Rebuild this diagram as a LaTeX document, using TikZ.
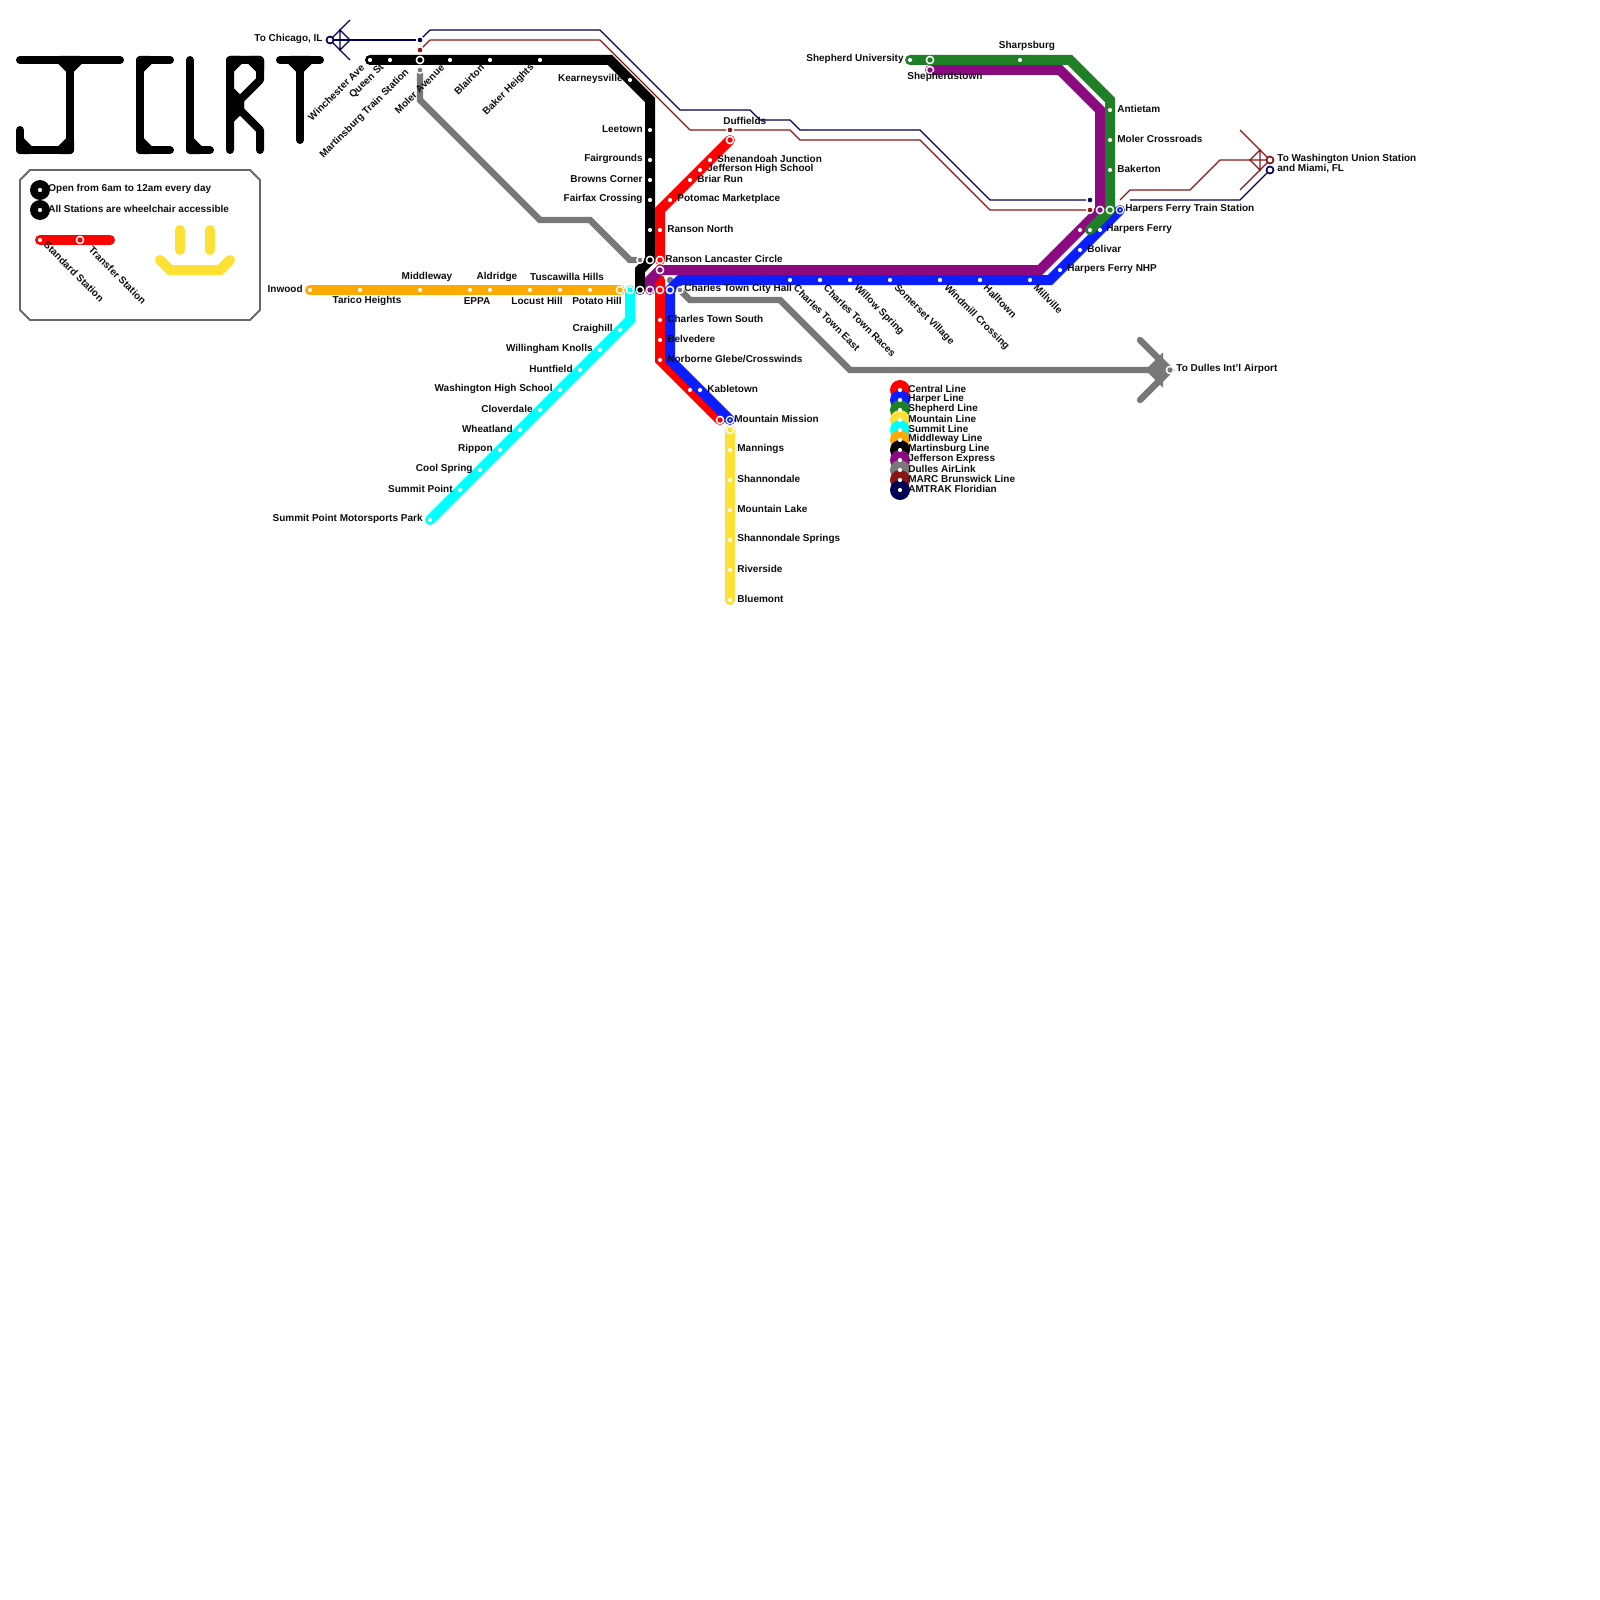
\documentclass[tikz,border=0pt]{standalone}
\usepackage{fontspec}
\setmainfont{Liberation Sans}
\usepackage{xcolor}
\usetikzlibrary{calc}
\definecolor{central}{HTML}{FF0000}
\definecolor{harper}{HTML}{0A1EFF}
\definecolor{shepherd}{HTML}{1F7F25}
\definecolor{mountain}{HTML}{FFE135}
\definecolor{summit}{HTML}{00FFFF}
\definecolor{middleway}{HTML}{FFAA00}
\definecolor{jefferson}{HTML}{8B0A80}
\definecolor{dulles}{HTML}{787878}
\definecolor{marc}{HTML}{8B1414}
\definecolor{amtrak}{HTML}{000055}
\tikzset{
  logo/.style={line width=4pt,line cap=round,line join=round,black},
  metro/.style={line width=5pt,line cap=round,line join=miter},
  air/.style={line width=3.2pt,line cap=round,line join=miter,dulles},
  rail/.style={line width=0.55pt,line join=miter},
  stn/.style={circle,fill=white,inner sep=0pt,minimum size=2.1pt},
  txt/.style={inner sep=0pt,yshift=-0.2pt,font=\fontsize{5}{5.1}\selectfont\bfseries,text=black!95},
  lt/.style={txt,anchor=west,xshift=-0.5pt},
  rt/.style={txt,anchor=east,xshift=0.5pt},
  dn/.style={txt,anchor=west,rotate=-45,yshift=0.2pt},
  up/.style={txt,anchor=east,rotate=45,xshift=0.5pt,yshift=0.7pt},
  key/.style={txt,anchor=west}
}
\newcommand{\xfer}[2]{\fill[white] #2 circle (4.4); \fill[#1] #2 circle (2.7);}
\newcommand{\xferdot}[2]{\fill[white] #2 circle (4.4); \fill[#1] #2 circle (3); \fill[white] #2 circle (1.2);}
\newcommand{\halo}[2]{\fill[white] #2 circle (4); \fill[#1] #2 circle (2.3);}
\newcommand{\term}[2]{\fill[#1] #2 circle (4.4); \fill[white] #2 circle (2.4);}
\begin{document}
\begin{tikzpicture}[x=0.5pt,y=-0.5pt]
\useasboundingbox (0,0) rectangle (1600,1600);
\draw[logo] (20,60)--(120,60);
\draw[logo] (70,60)--(70,150);
\draw[logo,fill=black] (60,60)--(70,70)--(80,60)--cycle;
\draw[logo] (20,130)--(20,150)--(70,150);
\draw[logo,fill=black] (20,140)--(30,150)--(20,150)--cycle;
\draw[logo,fill=black] (70,140)--(60,150)--(70,150)--cycle;
\draw[logo] (170,60)--(140,60)--(140,150)--(170,150);
\draw[logo,fill=black] (140,70)--(150,60)--(140,60)--cycle;
\draw[logo,fill=black] (140,140)--(150,150)--(140,150)--cycle;
\draw[logo] (190,60)--(190,150)--(210,150);
\draw[logo,fill=black] (190,140)--(200,150)--(190,150)--cycle;
\draw[logo] (230,150)--(230,60)--(260,60)--(260,80)--(240,100)--(240,110)--(260,130)--(260,150);
\draw[logo,fill=black] (230,70)--(240,60)--(230,60)--cycle;
\draw[logo,fill=black] (250,60)--(260,70)--(260,60)--cycle;
\draw[logo,fill=black] (230,90)--(240,100)--(240,110)--(230,120)--cycle;
\draw[logo] (280,60)--(320,60);
\draw[logo] (300,60)--(300,140);
\draw[logo,fill=black] (290,60)--(300,70)--(310,60)--cycle;

\draw[black!60,line width=0.9pt] (30,170)--(250,170)--(260,180)--(260,310)--(250,320)--(30,320)--(20,310)--(20,180)--cycle;
\fill[black] (40,190) circle (10);
\node[stn] at (40,190) {};
\node[key] at (48,189) {Open from 6am to 12am every day};
\fill[black] (40,210) circle (10);
\node[stn] at (40,210) {};
\node[key] at (48,209) {All Stations are wheelchair accessible};
\draw[metro,central] (40,240)--(110,240);
\node[stn] at (40,240) {};
\xfer{central}{(80,240)}
\node[dn] at (45,243) {Standard Station};
\node[dn] at (90,248) {Transfer Station};
\draw[metro,mountain] (180,230)--(180,250);
\draw[metro,mountain] (210,230)--(210,250);
\draw[metro,mountain] (160,260)--(170,270)--(220,270)--(230,260);

\draw[rail,amtrak] (430,30)--(600,30)--(680,110)--(750,110)--(760,120)--(790,120)--(800,130)--(920,130)--(990,200)--(1090,200);
\draw[rail,amtrak] (420,40)--(430,30);
\draw[rail,amtrak] (330,40)--(420,40);
\draw[rail,amtrak] (350,20)--(330,40)--(350,60);
\draw[rail,amtrak] (340,30)--(350,40)--(340,50)--cycle;
\draw[rail,amtrak] (1130,200)--(1240,200)--(1270,170);
\draw[rail,marc] (420,50)--(430,40)--(600,40)--(690,130)--(790,130)--(800,140)--(920,140)--(990,210)--(1090,210);
\draw[rail,marc] (1120,200)--(1130,190)--(1190,190)--(1220,160)--(1270,160);
\draw[rail,marc] (1240,130)--(1270,160)--(1240,190);
\draw[rail,marc] (1260,150)--(1250,160)--(1260,170)--cycle;

\draw[air] (420,70)--(420,100)--(540,220)--(590,220)--(630,260)--(640,260);
\draw[air] (670,280)--(690,300)--(780,300)--(850,370)--(1170,370);
\draw[air] (1140,340)--(1170,370)--(1140,400);
\draw[air,fill=dulles] (1160,360)--(1150,370)--(1160,380)--cycle;
\draw[air] (1160,360)--(1170,370)--(1160,380);

\draw[metro,middleway] (310,290)--(620,290);
\draw[metro,mountain] (730,430)--(730,600);
\draw[metro,summit] (630,290)--(630,320)--(430,520);
\draw[metro,black] (370,60)--(610,60)--(650,100)--(650,260)--(640,270)--(640,290);
\draw[metro,central] (730,140)--(660,210)--(660,260);
\draw[metro,central] (660,280)--(660,360)--(720,420);
\draw[metro,jefferson] (650,290)--(650,280)--(660,270)--(1040,270)--(1100,210)--(1100,110)--(1060,70)--(930,70);
\draw[metro,harper] (1120,210)--(1050,280)--(680,280)--(670,290)--(670,360)--(730,420);
\draw[metro,shepherd] (910,60)--(1070,60)--(1110,100)--(1110,210)--(1090,230);

\halo{dulles}{(640,260)}
\halo{dulles}{(680,290)}
\halo{dulles}{(420,70)}
\halo{amtrak}{(420,40)}
\halo{marc}{(420,50)}
\halo{marc}{(730,130)}
\halo{amtrak}{(1090,200)}
\halo{marc}{(1090,210)}
\term{amtrak}{(330,40)}
\term{marc}{(1270,160)}
\term{amtrak}{(1270,170)}
\xfer{dulles}{(1170,370)}

\node[stn] at (310,290) {};
\node[stn] at (360,290) {};
\node[stn] at (420,290) {};
\node[stn] at (470,290) {};
\node[stn] at (490,290) {};
\node[stn] at (530,290) {};
\node[stn] at (560,290) {};
\node[stn] at (590,290) {};
\xfer{middleway}{(620,290)}
\xfer{summit}{(630,290)}
\xfer{black}{(640,290)}
\xfer{jefferson}{(650,290)}
\xfer{central}{(660,290)}
\xfer{harper}{(670,290)}
\node[stn] at (620,330) {};
\node[stn] at (600,350) {};
\node[stn] at (580,370) {};
\node[stn] at (560,390) {};
\node[stn] at (540,410) {};
\node[stn] at (520,430) {};
\node[stn] at (500,450) {};
\node[stn] at (480,470) {};
\node[stn] at (460,490) {};
\node[stn] at (430,520) {};
\node[stn] at (370,60) {};
\node[stn] at (390,60) {};
\xfer{black}{(420,60)}
\node[stn] at (450,60) {};
\node[stn] at (490,60) {};
\node[stn] at (540,60) {};
\node[stn] at (630,80) {};
\node[stn] at (650,130) {};
\node[stn] at (650,160) {};
\node[stn] at (650,180) {};
\node[stn] at (650,200) {};
\node[stn] at (650,230) {};
\xfer{black}{(650,260)}
\xfer{central}{(730,140)}
\node[stn] at (710,160) {};
\node[stn] at (700,170) {};
\node[stn] at (690,180) {};
\node[stn] at (670,200) {};
\node[stn] at (660,230) {};
\xfer{central}{(660,260)}
\xfer{jefferson}{(660,270)}
\node[stn] at (660,320) {};
\node[stn] at (660,340) {};
\node[stn] at (660,360) {};
\node[stn] at (690,390) {};
\xfer{central}{(720,420)}
\node[stn] at (700,390) {};
\xferdot{harper}{(730,420)}
\xfer{mountain}{(730,430)}
\node[stn] at (730,450) {};
\node[stn] at (730,480) {};
\node[stn] at (730,510) {};
\node[stn] at (730,540) {};
\node[stn] at (730,570) {};
\node[stn] at (730,600) {};
\node[stn] at (790,280) {};
\node[stn] at (820,280) {};
\node[stn] at (850,280) {};
\node[stn] at (890,280) {};
\node[stn] at (940,280) {};
\node[stn] at (980,280) {};
\node[stn] at (1030,280) {};
\node[stn] at (1060,270) {};
\node[stn] at (1080,250) {};
\node[stn] at (1100,230) {};
\node[stn] at (1090,230) {};
\node[stn] at (1080,230) {};
\xfer{jefferson}{(1100,210)}
\xfer{shepherd}{(1110,210)}
\xferdot{harper}{(1120,210)}
\node[stn] at (1110,110) {};
\node[stn] at (1110,140) {};
\node[stn] at (1110,170) {};
\node[stn] at (1020,60) {};
\node[stn] at (910,60) {};
\xfer{shepherd}{(930,60)}
\xfer{jefferson}{(930,70)}

\node[rt] at (322,39) {To Chicago, IL};
\node[up] at (363,67) {Winchester Ave};
\node[up] at (383,67) {Queen St};
\node[up] at (408,72) {Martinsburg Train Station};
\node[up] at (443,67) {Moler Avenue};
\node[up] at (483,67) {Blairton};
\node[up] at (533,67) {Baker Heights};
\node[rt] at (622,79) {Kearneysville};
\node[rt] at (642,129) {Leetown};
\node[rt] at (642,159) {Fairgrounds};
\node[rt] at (642,179) {Browns Corner};
\node[rt] at (642,199) {Fairfax Crossing};
\node[lt] at (724,121) {Duffields};
\node[lt] at (718,159) {Shenandoah Junction};
\node[lt] at (708,169) {Jefferson High School};
\node[lt] at (698,179) {Briar Run};
\node[lt] at (678,199) {Potomac Marketplace};
\node[lt] at (668,229) {Ranson North};
\node[lt] at (666,259) {Ranson Lancaster Circle};
\node[lt] at (685,289) {Charles Town City Hall};
\node[lt] at (668,319) {Charles Town South};
\node[lt] at (668,339) {Belvedere};
\node[lt] at (668,359) {Norborne Glebe/Crosswinds};
\node[lt] at (708,389) {Kabletown};
\node[lt] at (735,419) {Mountain Mission};
\node[lt] at (738,449) {Mannings};
\node[lt] at (738,479) {Shannondale};
\node[lt] at (738,509) {Mountain Lake};
\node[lt] at (738,539) {Shannondale Springs};
\node[lt] at (738,569) {Riverside};
\node[lt] at (738,599) {Bluemont};
\node[dn] at (795,286) {Charles Town East};
\node[dn] at (825,286) {Charles Town Races};
\node[dn] at (855,286) {Willow Spring};
\node[dn] at (895,286) {Somerset Village};
\node[dn] at (945,286) {Windmill Crossing};
\node[dn] at (985,286) {Halltown};
\node[dn] at (1035,286) {Millville};
\node[rt] at (903,59) {Shepherd University};
\node[txt] at (1027,46) {Sharpsburg};
\node[lt] at (908,77) {Shepherdstown};
\node[lt] at (1118,109) {Antietam};
\node[lt] at (1118,139) {Moler Crossroads};
\node[lt] at (1118,169) {Bakerton};
\node[lt] at (1126,209) {Harpers Ferry Train Station};
\node[lt] at (1107,229) {Harpers Ferry};
\node[lt] at (1088,249) {Bolivar};
\node[lt] at (1068,269) {Harpers Ferry NHP};
\node[lt,align=left] at (1278,163) {To Washington Union Station\\and Miami, FL};
\node[lt] at (1177,369) {To Dulles Int'l Airport};
\node[rt] at (302,289) {Inwood};
\node[txt] at (427,277) {Middleway};
\node[txt] at (367,301) {Tarico Heights};
\node[txt] at (497,277) {Aldridge};
\node[txt] at (477,301) {EPPA};
\node[txt] at (537,301) {Locust Hill};
\node[txt] at (567,277) {Tuscawilla Hills};
\node[txt] at (597,301) {Potato Hill};
\node[rt] at (612,329) {Craighill};
\node[rt] at (592,349) {Willingham Knolls};
\node[rt] at (572,369) {Huntfield};
\node[rt] at (552,389) {Washington High School};
\node[rt] at (532,409) {Cloverdale};
\node[rt] at (512,429) {Wheatland};
\node[rt] at (492,449) {Rippon};
\node[rt] at (472,469) {Cool Spring};
\node[rt] at (452,489) {Summit Point};
\node[rt] at (422,519) {Summit Point Motorsports Park};

\fill[central] (900,390) circle (10);
\fill[harper] (900,400) circle (10);
\fill[shepherd] (900,410) circle (10);
\fill[mountain] (900,420) circle (10);
\fill[summit] (900,430) circle (10);
\fill[middleway] (900,440) circle (10);
\fill[black] (900,450) circle (10);
\fill[jefferson] (900,460) circle (10);
\fill[dulles] (900,470) circle (10);
\fill[marc] (900,480) circle (10);
\fill[amtrak] (900,490) circle (10);
\node[stn] at (900,390) {};
\node[stn] at (900,400) {};
\node[stn] at (900,410) {};
\node[stn] at (900,420) {};
\node[stn] at (900,430) {};
\node[stn] at (900,440) {};
\node[stn] at (900,450) {};
\node[stn] at (900,460) {};
\node[stn] at (900,470) {};
\node[stn] at (900,480) {};
\node[stn] at (900,490) {};
\node[key] at (908,389) {Central Line};
\node[key] at (908,399) {Harper Line};
\node[key] at (908,409) {Shepherd Line};
\node[key] at (908,419) {Mountain Line};
\node[key] at (908,429) {Summit Line};
\node[key] at (908,439) {Middleway Line};
\node[key] at (908,449) {Martinsburg Line};
\node[key] at (908,459) {Jefferson Express};
\node[key] at (908,469) {Dulles AirLink};
\node[key] at (908,479) {MARC Brunswick Line};
\node[key] at (908,489) {AMTRAK Floridian};
\end{tikzpicture}
\end{document}
